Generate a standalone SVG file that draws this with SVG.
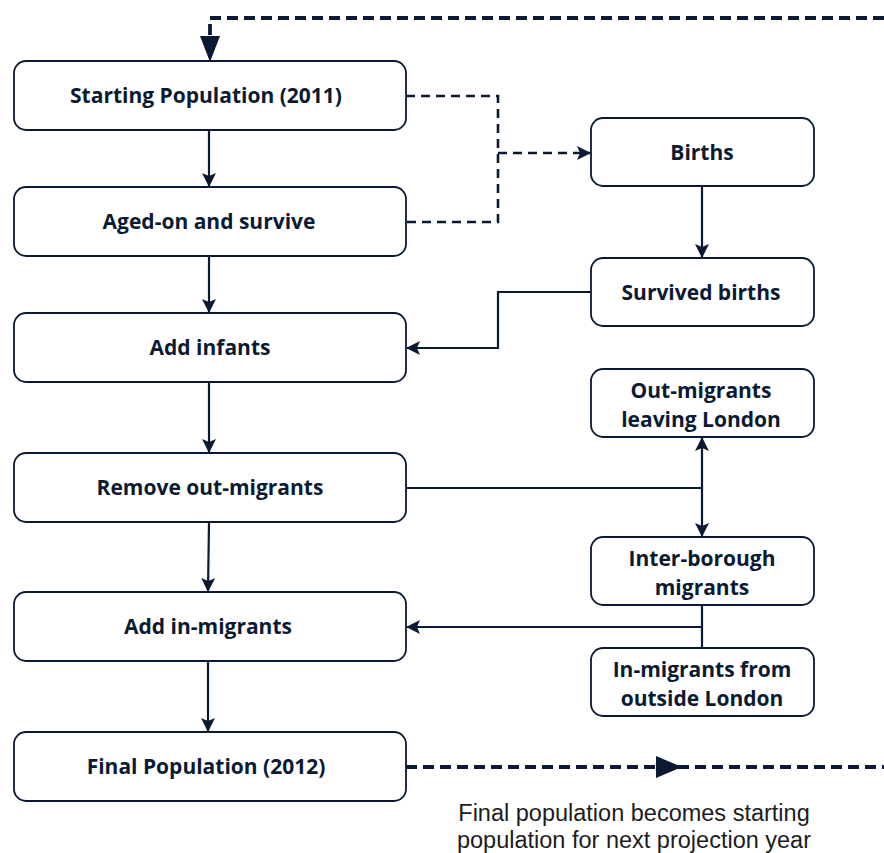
<svg xmlns="http://www.w3.org/2000/svg" width="884" height="853" viewBox="0 0 884 853">
<style>
.box{fill:#fff;stroke:#0b1a33;stroke-width:1.8}
.lbl{font-family:"Open Sans","DejaVu Sans",sans-serif;font-weight:bold;font-size:21px;fill:#0b1a33;text-anchor:middle}
.ln{fill:none;stroke:#0b1a33;stroke-width:2.2}
.dash{fill:none;stroke:#0b1a33;stroke-width:2.6;stroke-dasharray:9 6}
.bigdash{fill:none;stroke:#0b1a33;stroke-width:3.8;stroke-dasharray:11 6}
.cap{font-family:"Liberation Sans",Arial,sans-serif;font-size:23.5px;fill:#1c1c1c;text-anchor:middle}
</style>
<defs>
<marker id="as" markerWidth="14" markerHeight="14" refX="13" refY="7" orient="auto-start-reverse" markerUnits="userSpaceOnUse"><path d="M0,0 L14,7 L0,14 L3,7 Z" fill="#0b1a33"/></marker>
</defs>
<g id="connectors">
<path class="bigdash" d="M884,18 L210,18 L210,40" />
<path d="M200,36 L220,36 L210,62 Z" fill="#0b1a33"/>
<path class="ln" d="M209,130 L209,186" marker-end="url(#as)"/>
<path class="dash" d="M406,96 L498,96 L498,222 L406,222"/>
<path class="dash" d="M498,153 L590,153" marker-end="url(#as)"/>
<path class="ln" d="M702,186 L702,257" marker-end="url(#as)"/>
<path class="ln" d="M591,292 L498,292 L498,348 L407,348" marker-end="url(#as)"/>
<path class="ln" d="M209,256 L209,312" marker-end="url(#as)"/>
<path class="ln" d="M209,382 L209,452" marker-end="url(#as)"/>
<path class="ln" d="M209,522 L208,591" marker-end="url(#as)"/>
<path class="ln" d="M208,661 L208,731" marker-end="url(#as)"/>
<path class="ln" d="M406,488 L702,488"/>
<path class="ln" d="M702,438 L702,536" marker-start="url(#as)" marker-end="url(#as)"/>
<path class="ln" d="M702,605 L702,648 M702,627 L407,627" marker-end="url(#as)"/>
<path class="bigdash" d="M406,767 L884,767"/>
<path d="M656,756 L682,767 L656,778 Z" fill="#0b1a33"/>
</g>
<g id="n1"><rect class="box" x="14" y="61" width="392" height="69" rx="12"/><text class="lbl" x="206" y="103">Starting Population (2011)</text></g>
<g id="n2"><rect class="box" x="14" y="187" width="392" height="69" rx="12"/><text class="lbl" x="209" y="229">Aged-on and survive</text></g>
<g id="n3"><rect class="box" x="14" y="313" width="392" height="69" rx="12"/><text class="lbl" x="210" y="355">Add infants</text></g>
<g id="n4"><rect class="box" x="14" y="453" width="392" height="69" rx="12"/><text class="lbl" x="210" y="495">Remove out-migrants</text></g>
<g id="n5"><rect class="box" x="14" y="592" width="392" height="69" rx="12"/><text class="lbl" x="208" y="634">Add in-migrants</text></g>
<g id="n6"><rect class="box" x="14" y="732" width="392" height="69" rx="12"/><text class="lbl" x="206" y="774">Final Population (2012)</text></g>
<g id="r1"><rect class="box" x="591" y="118" width="223" height="68" rx="12"/><text class="lbl" x="702" y="160">Births</text></g>
<g id="r2"><rect class="box" x="591" y="258" width="223" height="68" rx="12"/><text class="lbl" x="701" y="300">Survived births</text></g>
<g id="r3"><rect class="box" x="591" y="369" width="223" height="68" rx="12"/><text class="lbl" x="701" y="398">Out-migrants</text><text class="lbl" x="701" y="427">leaving London</text></g>
<g id="r4"><rect class="box" x="591" y="537" width="223" height="68" rx="12"/><text class="lbl" x="702" y="566">Inter-borough</text><text class="lbl" x="702" y="595">migrants</text></g>
<g id="r5"><rect class="box" x="591" y="648" width="223" height="68" rx="12"/><text class="lbl" x="702" y="677">In-migrants from</text><text class="lbl" x="702" y="706">outside London</text></g>
<g id="caption"><text class="cap" x="634" y="821">Final population becomes starting</text><text class="cap" x="634" y="848">population for next projection year</text></g>
</svg>
